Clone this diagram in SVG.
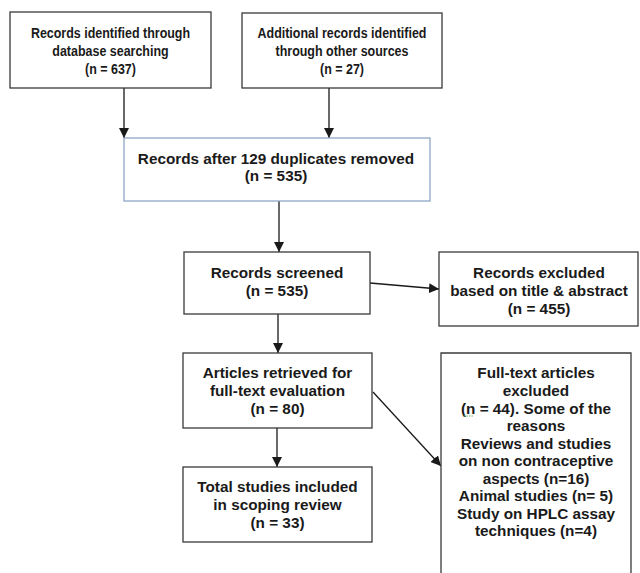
<svg xmlns="http://www.w3.org/2000/svg" width="640" height="573" viewBox="0 0 640 573">
<defs>
<style>
.box{fill:#fff;stroke:#3a3a3a;stroke-width:1.3}
.blue{fill:#fff;stroke:#8ea6c6;stroke-width:1.3}
text{font-family:"Liberation Sans",Arial,sans-serif;font-weight:bold;font-size:15.3px;fill:#1a1a1a;text-anchor:middle}
.top text{font-size:14px}
.edge{stroke:#1a1a1a;stroke-width:1.3;fill:none;marker-end:url(#ah)}
</style>
<marker id="ah" viewBox="0 0 10 10" refX="10" refY="5" markerWidth="10" markerHeight="10" markerUnits="userSpaceOnUse" orient="auto">
<path d="M0,0 L10,5 L0,10 z" fill="#1a1a1a"/>
</marker>
</defs>
<rect width="640" height="573" fill="#fff"/>
<g id="connectors">
<line class="edge" x1="124" y1="88" x2="124" y2="138"/>
<line class="edge" x1="329" y1="88" x2="329" y2="138"/>
<line class="edge" x1="279" y1="201" x2="279" y2="252"/>
<line class="edge" x1="370" y1="283" x2="439" y2="289"/>
<line class="edge" x1="278" y1="314" x2="278" y2="353"/>
<line class="edge" x1="277" y1="428" x2="277" y2="467"/>
<line class="edge" x1="373" y1="392" x2="441" y2="466"/>
</g>
<g id="n1" class="top">
<rect class="box" x="10" y="12" width="201" height="76"/>
<g transform="translate(110.5,0) scale(0.89,1) translate(-110.5,0)">
<text x="110.5" y="38">Records identified through</text>
<text x="110.5" y="56">database searching</text>
<text x="110.5" y="74">(n = 637)</text>
</g>
</g>
<g id="n2" class="top">
<rect class="box" x="242" y="13" width="200" height="75"/>
<g transform="translate(342,0) scale(0.89,1) translate(-342,0)">
<text x="342" y="38">Additional records identified</text>
<text x="342" y="56">through other sources</text>
<text x="342" y="74">(n = 27)</text>
</g>
</g>
<g id="n3">
<rect class="blue" x="124" y="138" width="306" height="63"/>
<text x="276" y="164">Records after 129 duplicates removed</text>
<text x="276" y="181">(n = 535)</text>
</g>
<g id="n4">
<rect class="box" x="184" y="252" width="186" height="62"/>
<text x="277" y="278">Records screened</text>
<text x="277" y="296">(n = 535)</text>
</g>
<g id="n5">
<rect class="box" x="439" y="252" width="199" height="74"/>
<text x="539" y="278">Records excluded</text>
<text x="539" y="296">based on title &amp; abstract</text>
<text x="539" y="314">(n = 455)</text>
</g>
<g id="n6">
<rect class="box" x="183" y="353" width="189" height="75"/>
<text x="277.5" y="378">Articles retrieved for</text>
<text x="277.5" y="396">full-text evaluation</text>
<text x="277.5" y="414">(n = 80)</text>
</g>
<g id="n7">
<rect class="box" x="183" y="467" width="189" height="75"/>
<text x="277.5" y="492">Total studies included</text>
<text x="277.5" y="510">in scoping review</text>
<text x="277.5" y="528">(n = 33)</text>
</g>
<g id="n8">
<path class="box" d="M441,575 L441,353 L631,353 L631,575"/>
<text x="536" y="378">Full-text articles</text>
<text x="536" y="396">excluded</text>
<text x="536" y="413.5">(n = 44). Some of the</text>
<text x="536" y="431">reasons</text>
<text x="536" y="448.5">Reviews and studies</text>
<text x="536" y="466">on non contraceptive</text>
<text x="536" y="483.5">aspects (n=16)</text>
<text x="536" y="501">Animal studies (n= 5)</text>
<text x="536" y="518.5">Study on HPLC assay</text>
<text x="536" y="536">techniques (n=4)</text>
<line x1="464" y1="416" x2="474" y2="416" stroke="#6bbf5a" stroke-width="1" stroke-dasharray="1.5,1"/>
</g>
</svg>
